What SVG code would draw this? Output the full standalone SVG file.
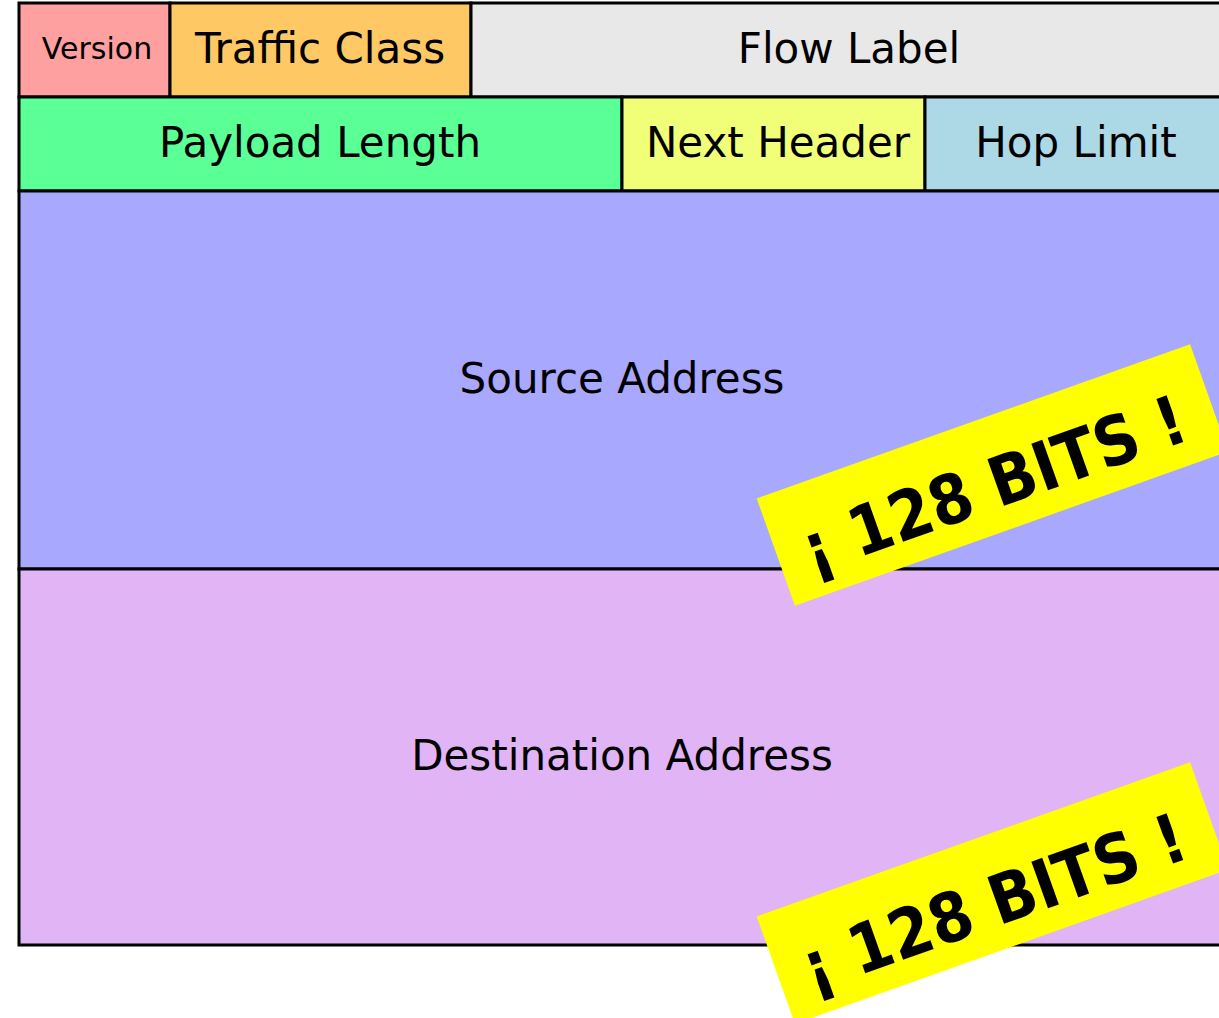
<svg xmlns="http://www.w3.org/2000/svg" width="1219" height="1018" viewBox="0 0 1219 1018">
<style>
.cell{stroke:#000;stroke-width:3}
.lbl{font-family:"DejaVu Sans",sans-serif;font-size:42px;fill:#000;text-anchor:middle}
.tag{fill:#ffff00}
.tagtxt{font-family:"DejaVu Sans Condensed","DejaVu Sans",sans-serif;font-stretch:condensed;font-weight:bold;font-size:68px;fill:#000;text-anchor:middle}
</style>
<rect width="1219" height="1018" fill="#fff"/>
<g id="version"><rect class="cell" x="19" y="3" width="151" height="94" fill="#ffa0a0"/><text class="lbl" x="97" y="59" style="font-size:30px">Version</text></g>
<g id="traffic-class"><rect class="cell" x="170" y="3" width="301" height="94" fill="#fec864"/><text class="lbl" x="320" y="63">Traffic Class</text></g>
<g id="flow-label"><rect class="cell" x="471" y="3" width="760" height="94" fill="#e8e8e8"/><text class="lbl" x="849" y="63">Flow Label</text></g>
<g id="payload-length"><rect class="cell" x="19" y="97" width="603" height="94" fill="#5aff96"/><text class="lbl" x="320" y="157">Payload Length</text></g>
<g id="next-header"><rect class="cell" x="622" y="97" width="303" height="94" fill="#f0fe78"/><text class="lbl" x="778" y="157">Next Header</text></g>
<g id="hop-limit"><rect class="cell" x="925" y="97" width="306" height="94" fill="#add8e6"/><text class="lbl" x="1076" y="157">Hop Limit</text></g>
<g id="source-address"><rect class="cell" x="19" y="191" width="1212" height="378" fill="#a8a8ff"/><text class="lbl" x="622" y="393">Source Address</text></g>
<g id="destination-address"><rect class="cell" x="19" y="569" width="1212" height="376" fill="#e1b4f5"/><text class="lbl" x="622" y="770">Destination Address</text></g>
<g id="tag-source" transform="translate(992.5 475) rotate(-19.6)"><rect class="tag" x="-230" y="-57" width="460" height="114"/><text class="tagtxt" x="-2" y="33">¡ 128 BITS !</text></g>
<g id="tag-destination" transform="translate(992.5 893) rotate(-19.6)"><rect class="tag" x="-230" y="-57" width="460" height="114"/><text class="tagtxt" x="-2" y="33">¡ 128 BITS !</text></g>
<g id="connectors"/>
</svg>
